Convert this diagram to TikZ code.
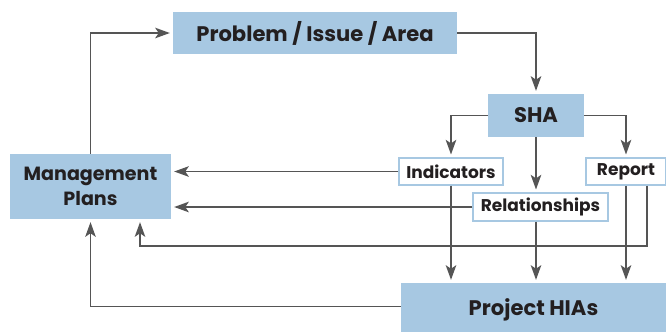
\documentclass[tikz,border=0pt]{standalone}
\usepackage{fontspec}
\setmainfont{Poppins}
\usepackage{tikz}
\usetikzlibrary{arrows.meta, positioning, calc}
\definecolor{HIABlue}{HTML}{A7C8E2}
\definecolor{HIALine}{HTML}{555555}
\definecolor{HIAText}{HTML}{231F20}

\begin{document}
\begin{tikzpicture}[x=0.03cm, y=-0.03cm,
    mainbox/.style={fill=HIABlue, text=HIAText, inner sep=0pt, align=center,
      font=\bfseries\fontsize{18}{21}\selectfont},
    subbox/.style={draw=HIABlue, line width=1pt, fill=white, text=HIAText, inner sep=0pt,
      font=\bfseries\fontsize{14.5}{16}\selectfont},
    arr/.style={draw=HIALine, line width=1.2pt, shorten >=2.5pt,
      -{Stealth[length=12.5pt, width=9pt, inset=3pt]}}]
    \useasboundingbox (0,0) rectangle (666,331);

    % Boxes
    \node[mainbox, minimum width=8.52cm, minimum height=1.26cm] (prob) at (315,33) {Problem / Issue / Area};
    \node[mainbox, minimum width=2.88cm, minimum height=1.29cm] (sha) at (536,115.5) {SHA};
    \node[mainbox, minimum width=4.83cm, minimum height=1.95cm, font=\bfseries\fontsize{16.3}{21}\selectfont] (mgmt) at (90.5,186.5) {Management\\Plans};
    \node[mainbox, minimum width=7.95cm, minimum height=1.62cm] (proj) at (533.5,310) {Project HIAs};

    \node[subbox, minimum width=3.12cm, minimum height=0.81cm] (ind) at (451,171.5) {Indicators};
    \node[subbox, minimum width=2.4cm, minimum height=0.81cm] (rep) at (626,171.5) {Report};
    \node[subbox, minimum width=4.05cm, minimum height=0.84cm] (rel) at (540.5,207) {Relationships};

    % Cycle
    \draw[arr] (mgmt.north) |- (prob.west);
    \draw[arr] (prob.east) -| (sha.north);

    % SHA outputs
    \draw[arr] (sha.west) -| (ind.north);
    \draw[arr] (sha.east) -| (rep.north);
    \draw[arr] (sha.south) -- (sha.south |- rel.north);

    % Back to management plans
    \draw[arr] (ind.west) -- (mgmt.east |- ind.west);
    \draw[arr] (rel.west) -- (mgmt.east |- rel.west);
    \coordinate (back) at (140,246);
    \draw[arr] ($(rep.south)+(21,0)$) |- (back) -- (back |- mgmt.south);

    % Down to project HIAs
    \draw[arr] (ind.south) -- (ind.south |- proj.north);
    \draw[arr] (sha.south |- rel.south) -- (sha.south |- proj.north);
    \draw[arr] (rep.south) -- (rep.south |- proj.north);
    \draw[arr] ([yshift=3pt]proj.west) -| (mgmt.south);
\end{tikzpicture}
\end{document}
